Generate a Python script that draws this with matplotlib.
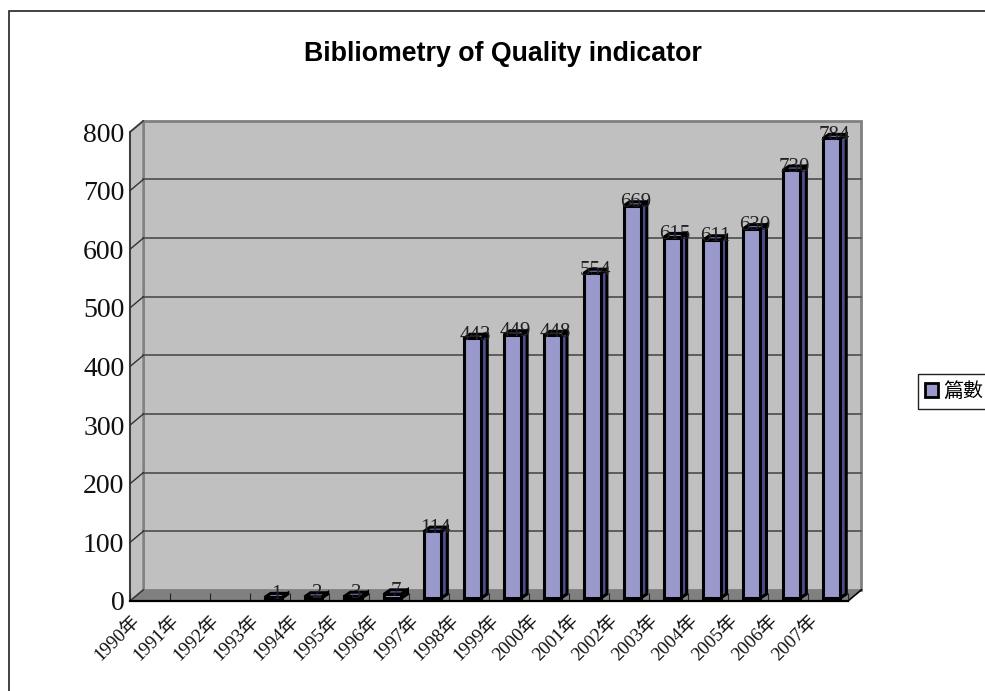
import numpy as np
import matplotlib
matplotlib.use("Agg")
import matplotlib.pyplot as plt
from matplotlib.patches import Patch, Polygon, Rectangle

# data
years = ['1990年', '1991年', '1992年', '1993年', '1994年', '1995年', '1996年', '1997年', '1998年',
         '1999年', '2000年', '2001年', '2002年', '2003年', '2004年', '2005年', '2006年', '2007年']
counts = [0, 0, 0, 1, 2, 3, 7, 114, 443, 449, 448, 554, 669, 615, 611, 630, 730, 784]
y_ticks = [0, 100, 200, 300, 400, 500, 600, 700, 800]
title = 'Bibliometry of Quality indicator'
series_name = '篇數'

W, H = 985, 691
SERIF = ['Liberation Serif', 'Noto Sans CJK TC']

fig = plt.figure(figsize=(W / 100, H / 100), dpi=100, facecolor='white')
fig.add_artist(Rectangle((8.5 / W, -0.01), 1.1, 1 - 11.5 / H + 0.01, transform=fig.transFigure,
                         fill=False, edgecolor='#222222', linewidth=1.2))

# front plane of the fake 3d box
ax = fig.add_axes([130 / W, 1 - 601 / H, 718 / W, 469 / H])
ax.set_xlim(0, len(years))
ax.set_ylim(0, 800)
ax.patch.set_visible(False)

# depth of the box in data units
DX, DY = 0.335, 19
n = len(years)

# walls and floor
ax.add_patch(Polygon([(DX, DY), (n + DX, DY), (n + DX, 800 + DY), (DX, 800 + DY)],
                     facecolor='#c0c0c0', edgecolor='#808080', linewidth=2, clip_on=False, zorder=1))
ax.add_patch(Polygon([(0, 0), (DX, DY), (DX, 800 + DY), (0, 800)],
                     facecolor='#c0c0c0', edgecolor='#808080', linewidth=1.5, clip_on=False, zorder=1.1))
ax.add_patch(Polygon([(0, 0), (n, 0), (n + DX, DY), (DX, DY)],
                     facecolor='#808080', edgecolor='none', clip_on=False, zorder=1.2))

# gridlines on wall, diagonals on left wall
for t in y_ticks[1:-1]:
    ax.plot([DX, n + DX], [t + DY, t + DY], color='#555555', lw=1.3, clip_on=False, zorder=1.3)
for t in y_ticks:
    ax.plot([0, DX], [t, t + DY], color='#333333', lw=1, clip_on=False, zorder=1.4)
ax.plot([n, n + DX], [0, DY], color='black', lw=1.2, clip_on=False, zorder=1.4)

# bars
BAR_L, BAR_W = 0.376, 0.43
BASE, SDX, SDY = 5, 0.15, 7
FRONT, SIDE, TOP = '#9999cc', '#4d4d8c', '#7a7acc'
for i, v in enumerate(counts):
    if v == 0:
        continue
    x0 = i + BAR_L
    x1 = x0 + BAR_W
    y0 = BASE
    y1 = BASE + v
    kw = dict(edgecolor='black', linewidth=2.2, joinstyle='miter', clip_on=False, zorder=3)
    ax.add_patch(Polygon([(x1, y0), (x1 + SDX, y0 + SDY), (x1 + SDX, y1 + SDY), (x1, y1)], facecolor=SIDE, **kw))
    ax.add_patch(Polygon([(x0, y1), (x1, y1), (x1 + SDX, y1 + SDY), (x0 + SDX, y1 + SDY)], facecolor=TOP, **kw))
    ax.add_patch(Polygon([(x0, y0), (x1, y0), (x1, y1), (x0, y1)], facecolor=FRONT, **kw))
    ax.text(x0 + BAR_W / 2 + SDX / 2, y1 + SDY - 2, str(v), ha='center', va='center', family=SERIF,
            fontsize=15, color='#222222', zorder=4)

for side in ['top', 'right']:
    ax.spines[side].set_visible(False)
ax.spines['bottom'].set_linewidth(1.6)
ax.spines['left'].set_linewidth(1.2)
ax.spines['left'].set_color('#333333')
for s in ax.spines.values():
    s.set_zorder(2.5)

# ticks
ax.set_yticks(y_ticks)
ax.set_yticklabels([str(t) for t in y_ticks], family=SERIF, fontsize=20, color='#111111')
ax.tick_params(axis='y', length=0, pad=4)
ax.set_xticks(np.arange(n + 1), minor=True)
ax.tick_params(axis='x', which='minor', direction='in', length=5.5, width=0.8, color='#222222')
ax.set_xticks(np.arange(n) + 0.02)
ax.set_xticklabels(years, family=SERIF, fontsize=13.5, rotation=45, ha='right', va='top',
                   rotation_mode='anchor', color='#111111')
ax.tick_params(axis='x', which='major', length=0, pad=8)

fig.text(503 / W, 1 - 54 / H, title, ha='center', va='center', family='Liberation Sans',
         fontweight='bold', fontsize=19.3, color='black')

leg = fig.legend(handles=[Patch(facecolor=FRONT, edgecolor='black', linewidth=2, label=series_name)],
                 loc='center left', bbox_to_anchor=(918 / W, 1 - 391.5 / H), frameon=True, fancybox=False,
                 edgecolor='#222222', framealpha=1, borderaxespad=0, handlelength=0.65, handleheight=0.65,
                 handletextpad=0.25, borderpad=0.35, prop={'family': 'Noto Sans CJK TC', 'size': 14.4})
leg.get_frame().set_linewidth(1)

fig.savefig('out.png', dpi=100)
